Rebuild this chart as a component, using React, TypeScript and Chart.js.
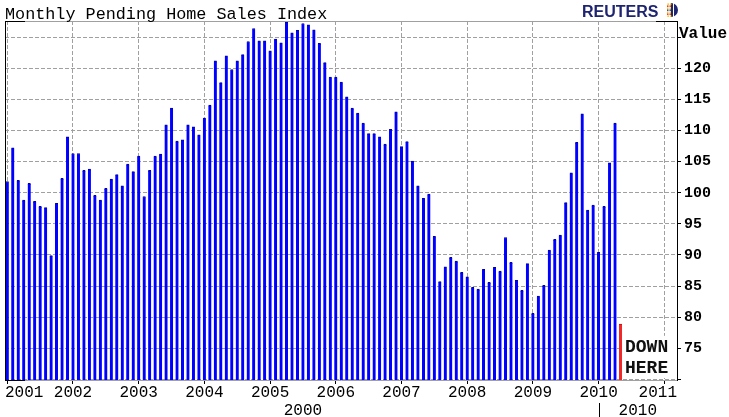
import React, { useEffect, useRef } from "react";
import { Chart, registerables } from "chart.js";

Chart.register(...registerables);

// ---------- data ----------
const TITLE = "Monthly Pending Home Sales Index";
const BRAND = "REUTERS";
const AXIS_TITLE = "Value";
const yearLabels = ["2001", "2002", "2003", "2004", "2005", "2006", "2007", "2008", "2009", "2010", "2011"];
const decadeLabels = ["2000", "2010"];
const decadeStartMonth = [0, 108]; // month index where each decade band starts
const yTicks = [70, 75, 80, 85, 90, 95, 100, 105, 110, 115, 120, 125];
const yLabelled = [75, 80, 85, 90, 95, 100, 105, 110, 115, 120];
const annotationText = ["DOWN", "HERE"];

const idx2001 = [101.8, 107.2, 102.0, 98.8, 101.5, 98.6, 97.8, 97.6, 89.9, 98.3, 102.3, 109.0];
const idx2002 = [106.3, 106.3, 103.6, 103.8, 99.6, 98.8, 100.7, 102.2, 102.9, 101.1, 104.6, 103.4];
const idx2003 = [105.9, 99.4, 103.6, 105.9, 106.2, 110.9, 113.6, 108.3, 108.5, 110.9, 110.6, 109.3];
const idx2004 = [112.0, 114.1, 121.2, 117.7, 122.0, 119.8, 121.2, 122.2, 124.3, 126.4, 124.4, 124.4];
const idx2005 = [122.8, 124.7, 124.1, 127.4, 125.7, 126.1, 127.2, 127.0, 126.2, 124.0, 120.9, 118.6];
const idx2006 = [118.6, 117.8, 115.4, 113.6, 112.8, 111.2, 109.5, 109.5, 109.0, 107.8, 110.2, 113.0];
const idx2007 = [107.4, 108.2, 105.1, 101.1, 99.1, 99.8, 93.0, 85.7, 88.1, 89.6, 89.0, 87.2];
const idx2008 = [86.5, 84.8, 84.5, 87.7, 85.6, 88.0, 87.4, 92.8, 88.8, 85.9, 84.3, 88.6];
const idx2009 = [80.6, 83.4, 85.1, 90.8, 92.5, 93.2, 98.4, 103.2, 108.1, 112.7, 97.2, 98.0];
const idx2010 = [90.4, 97.8, 104.8, 111.2];
const latestMay2010 = [78.9];

const pendingIndex = [
  ...idx2001, ...idx2002, ...idx2003, ...idx2004, ...idx2005,
  ...idx2006, ...idx2007, ...idx2008, ...idx2009, ...idx2010,
];

const MONO = "'Liberation Mono', 'DejaVu Sans Mono', monospace";

export default function App() {
  const ref = useRef<HTMLCanvasElement | null>(null);

  useEffect(() => {
    document.body.style.margin = "0";
    const canvas = ref.current;
    if (!canvas) return;

    const blue = pendingIndex.map((v, i) => ({ x: i, y: v }));
    const redIndex = pendingIndex.length;
    const red = latestMay2010.map((v, i) => ({ x: redIndex + i, y: v }));

    const extras = {
      id: "extras",
      beforeDatasetsDraw(chart: any) {
        const { ctx, chartArea, scales } = chart;
        const x = scales.x;
        const y = scales.y;
        const bx = x.getPixelForValue(redIndex) + 2.5;
        const top = y.getPixelForValue(77);
        ctx.save();
        ctx.fillStyle = "#ffffff";
        ctx.fillRect(bx, top, chartArea.right - 1 - bx, chartArea.bottom - 2 - top);
        ctx.restore();
      },
      afterDraw(chart: any) {
        const { ctx, chartArea, scales } = chart;
        const x = scales.x;
        const y = scales.y;
        const L = chartArea.left, R = chartArea.right, T = chartArea.top, B = chartArea.bottom;
        ctx.save();

        // frame
        ctx.lineWidth = 1;
        ctx.strokeStyle = "#a0a0a0";
        ctx.beginPath();
        ctx.moveTo(L, T + 0.5);
        ctx.lineTo(R, T + 0.5);
        ctx.stroke();
        ctx.strokeStyle = "#000";
        ctx.beginPath();
        ctx.moveTo(L + 0.5, T);
        ctx.lineTo(L + 0.5, B + 1);
        ctx.moveTo(L, T + 0.5);
        ctx.lineTo(L + 20, T + 0.5);
        ctx.moveTo(R - 21, T + 0.5);
        ctx.lineTo(R, T + 0.5);
        ctx.moveTo(L, B + 0.5);
        ctx.lineTo(L + 20, B + 0.5);
        ctx.stroke();

        // title
        ctx.fillStyle = "#000";
        ctx.font = `16.8px ${MONO}`;
        ctx.textAlign = "left";
        ctx.textBaseline = "alphabetic";
        ctx.fillText(TITLE, 5, 19);

        // brand
        ctx.fillStyle = "#1e2470";
        ctx.font = "bold 16px 'Liberation Sans', Arial, sans-serif";
        ctx.fillText(BRAND, 582, 17);
        // globe
        const gx = 671, gy = 10, gr = 7;
        ctx.beginPath();
        ctx.arc(gx, gy, gr, -Math.PI / 2, Math.PI / 2);
        ctx.closePath();
        ctx.fill();
        ctx.fillStyle = "#ffffff";
        ctx.fillRect(gx + 2, gy - gr, 1, gr * 2);
        const dotColors = ["#f5c400", "#e03020", "#f5c400", "#2040a0", "#f5c400", "#e03020", "#f5c400"];
        for (let k = 0; k < 7; k++) {
          const dy = -6 + k * 2;
          const w = Math.sqrt(Math.max(0, 49 - dy * dy));
          ctx.fillStyle = dotColors[k];
          ctx.fillRect(gx - Math.min(w, 4), gy + dy - 0.6, 1.5, 1.5);
          ctx.fillRect(gx - Math.min(w, 4) + 2.5, gy + dy - 0.6, 1.5, 1.5);
        }

        // axis title
        ctx.fillStyle = "#000";
        ctx.font = `bold 16px ${MONO}`;
        ctx.textBaseline = "middle";
        ctx.fillText(AXIS_TITLE, 679, y.getPixelForValue(125.5));

        // year labels (kept inside plot width)
        ctx.font = `16px ${MONO}`;
        ctx.textBaseline = "alphabetic";
        yearLabels.forEach((lab, k) => {
          const cx = x.getPixelForValue(12 * k);
          const w = ctx.measureText(lab).width;
          let left = cx - w / 2;
          left = Math.max(L, Math.min(R - w, left));
          ctx.fillText(lab, left, 397);
        });

        // decade row
        decadeLabels.forEach((lab, k) => {
          const s = decadeStartMonth[k];
          const e = k + 1 < decadeStartMonth.length ? decadeStartMonth[k + 1] : x.max;
          const cx = (x.getPixelForValue(s) + x.getPixelForValue(e)) / 2;
          ctx.textAlign = "center";
          ctx.fillText(lab, cx, 415);
          if (k > 0) {
            const sx = Math.round(x.getPixelForValue(s)) + 0.5;
            ctx.beginPath();
            ctx.strokeStyle = "#000";
            ctx.lineWidth = 1;
            ctx.moveTo(sx, 403);
            ctx.lineTo(sx, 417);
            ctx.stroke();
          }
        });

        // annotation text
        ctx.textAlign = "left";
        ctx.fillStyle = "#101010";
        ctx.font = `bold 18px ${MONO}`;
        const tx = x.getPixelForValue(redIndex) + 4.5;
        const boxTop = y.getPixelForValue(77);
        ctx.fillText(annotationText[0], tx, boxTop + 16);
        ctx.fillText(annotationText[1], tx, boxTop + 37);

        ctx.restore();
      },
    };

    const chart = new Chart(canvas, {
      type: "bar",
      data: {
        datasets: [
          {
            data: blue,
            backgroundColor: "#0000ff",
            borderColor: "#0000a0",
            borderWidth: { top: 1, right: 0, bottom: 0, left: 0 },
            barThickness: 3,
            grouped: false,
          } as any,
          {
            data: red,
            backgroundColor: "#f02828",
            borderColor: "#c01010",
            borderWidth: { top: 1, right: 0, bottom: 0, left: 0 },
            barThickness: 3,
            grouped: false,
          } as any,
        ],
      },
      options: {
        animation: false,
        responsive: false,
        devicePixelRatio: 1,
        layout: { padding: { left: 5, top: 21, right: 0, bottom: 0 } },
        plugins: { legend: { display: false }, tooltip: { enabled: false } },
        scales: {
          x: {
            type: "linear",
            offset: false,
            min: -0.42,
            max: 122.32,
            afterBuildTicks: (s: any) => {
              s.ticks = yearLabels.map((_, k) => ({ value: 12 * k }));
            },
            afterFit: (s: any) => {
              s.height = 37;
            },
            ticks: { display: false },
            grid: {
              offset: false,
              color: "#a0a0a0",
              lineWidth: 1,
              drawTicks: true,
              tickLength: 4,
              tickColor: "#000",
            },
            border: { display: true, color: "#a0a0a0", width: 1, dash: [4, 2] },
          },
          y: {
            position: "right",
            min: 69.9,
            max: 127.6,
            afterBuildTicks: (s: any) => {
              s.ticks = yTicks.map((v) => ({ value: v }));
            },
            afterFit: (s: any) => {
              s.width = 52;
            },
            ticks: {
              padding: 3,
              color: "#000",
              font: { family: MONO, size: 15, weight: "bold" },
              callback: (v: any) => (yLabelled.includes(Number(v)) ? String(v) : ""),
            },
            grid: {
              color: "#a0a0a0",
              lineWidth: 1,
              drawTicks: true,
              tickLength: 4,
              tickColor: "#000",
            },
            border: { display: true, color: "#000", width: 1, dash: [4, 2] },
          },
        },
      } as any,
      plugins: [extras],
    });

    return () => chart.destroy();
  }, []);

  return (
    <div style={{ position: "absolute", left: 0, top: 0, width: 729, height: 417, background: "#fff" }}>
      <canvas ref={ref} width={729} height={417} style={{ display: "block", width: 729, height: 417 }} />
    </div>
  );
}
